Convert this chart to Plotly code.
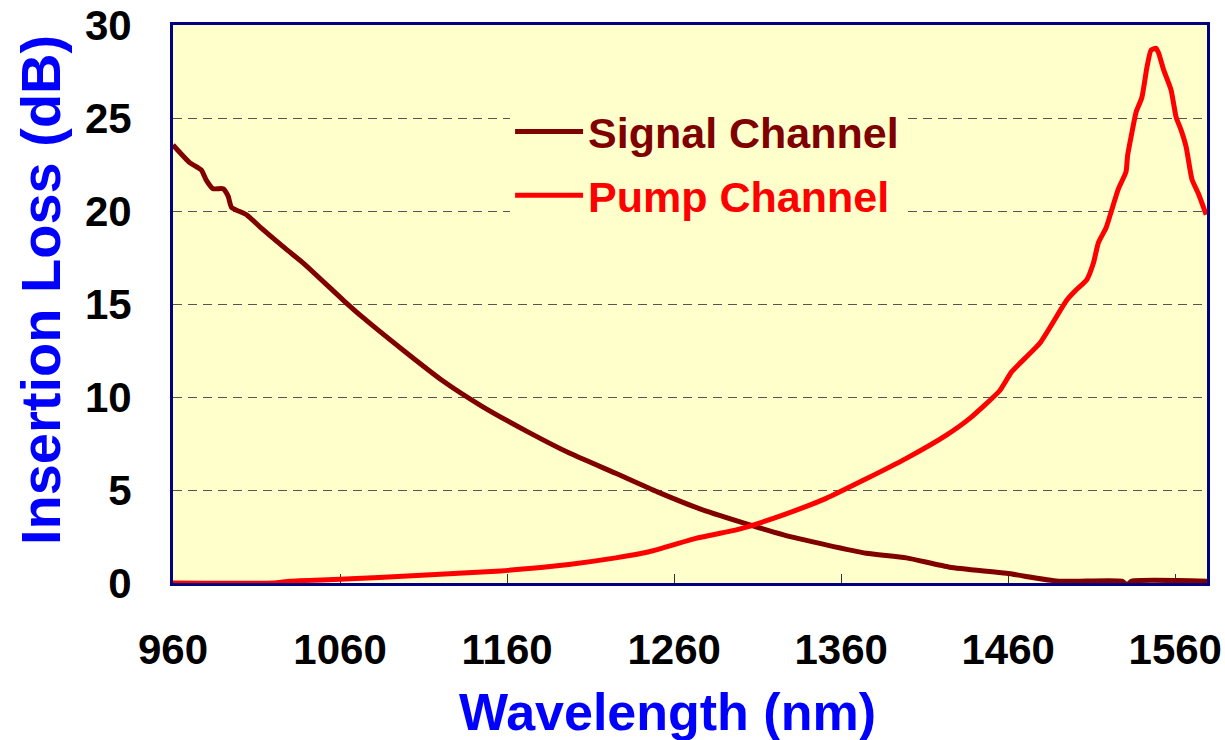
import plotly.graph_objects as go

# Signal channel (dark red)
sig_wl = [960, 970, 977, 980, 984, 990, 993, 995, 1004, 1012, 1027, 1038, 1062, 1074, 1098,
          1121, 1145, 1173, 1197, 1225, 1250, 1275, 1299, 1325, 1351, 1375, 1399, 1425,
          1459, 1490, 1528, 1531, 1534, 1579]
sig_il = [23.55, 22.6, 22.2, 21.65, 21.2, 21.2, 20.8, 20.2, 19.8, 19.15, 18.0, 17.2, 15.2, 14.25, 12.5,
          10.9, 9.5, 8.1, 7.0, 5.9, 4.9, 4.0, 3.3, 2.6, 2.05, 1.6, 1.35, 0.85,
          0.52, 0.1, 0.1, -0.1, 0.1, 0.1]

# Pump channel (red)
pump_wl = [960, 1020, 1030, 1060, 1106, 1156, 1197, 1225, 1245, 1273, 1299, 1325, 1351, 1375,
           1399, 1423, 1437, 1455, 1462, 1479, 1495, 1500.6, 1507, 1511, 1514, 1518.6, 1521.6,
           1526, 1530.5, 1531.5, 1534, 1536.5, 1540, 1543, 1545.5, 1548.5, 1550, 1553, 1557.5,
           1560.5, 1563.5, 1566.5, 1570, 1574, 1578.5]
pump_il = [0.0, 0.0, 0.1, 0.2, 0.4, 0.65, 1.0, 1.35, 1.68, 2.4, 2.9, 3.65, 4.55, 5.6,
           6.7, 7.95, 8.85, 10.35, 11.35, 12.9, 15.2, 15.75, 16.3, 17.2, 18.3, 19.1, 19.95,
           21.2, 22.1, 23.0, 24.2, 25.3, 26.1, 27.7, 28.65, 28.75, 28.5, 27.6, 26.5,
           25.05, 24.35, 23.45, 21.7, 20.9, 19.8]

x_ticks = [960, 1060, 1160, 1260, 1360, 1460, 1560]
y_ticks = [0, 5, 10, 15, 20, 25, 30]

x_title = "Wavelength (nm)"
y_title = "Insertion Loss (dB)"

FONT = "Liberation Sans, Arial, sans-serif"

fig = go.Figure()
fig.add_trace(go.Scatter(x=sig_wl, y=sig_il, mode="lines",
                         name="<span style='color:#800000'>Signal Channel</span>",
                         legendgroup="a",
                         line=dict(color="#800000", width=5, shape="spline", smoothing=0.5),
                         cliponaxis=False))
fig.add_trace(go.Scatter(x=pump_wl, y=pump_il, mode="lines",
                         name="<span style='color:#FF0000'>Pump Channel</span>",
                         legendgroup="b",
                         line=dict(color="#FF0000", width=5, shape="spline", smoothing=0.5),
                         cliponaxis=False))

fig.update_layout(
    width=1225, height=740,
    margin=dict(l=173, r=18, t=25, b=157),
    paper_bgcolor="white",
    plot_bgcolor="#FFFFCC",
    font=dict(family=FONT, color="black"),
    showlegend=True,
    legend=dict(x=0.326, y=0.871, xanchor="left", yanchor="top",
                bgcolor="#FFFFCC", borderwidth=0,
                font=dict(family=FONT, size=43, weight="bold"),
                itemwidth=68, tracegroupgap=5, traceorder="grouped"),
    xaxis=dict(range=[960, 1579], tickvals=x_ticks, ticktext=[str(v) for v in x_ticks],
               showgrid=False, zeroline=False, automargin=False,
               showline=True, mirror=True, linecolor="#000080", linewidth=3,
               ticks="inside", ticklen=9, tickcolor="#333333", tickwidth=1,
               tickfont=dict(family=FONT, size=42, weight="bold", color="black"),
               ticklabelstandoff=28, ticklabeloverflow="allow",
               layer="below traces"),
    yaxis=dict(range=[0, 30], tickvals=y_ticks, ticktext=[str(v) for v in y_ticks],
               showgrid=True, gridcolor="#555555", gridwidth=1, griddash="9px,6px",
               zeroline=False, automargin=False,
               showline=True, mirror=True, linecolor="#000080", linewidth=3,
               ticks="",
               tickfont=dict(family=FONT, size=42, weight="bold", color="black"),
               ticklabelstandoff=30, ticklabeloverflow="allow",
               layer="below traces"),
    annotations=[
        dict(text=x_title, xref="paper", yref="paper", x=0.4787, y=-0.231,
             xanchor="center", yanchor="middle", showarrow=False,
             font=dict(family=FONT, size=52, weight="bold", color="#0000FF")),
        dict(text=y_title, xref="paper", yref="paper", x=0, xshift=-133, y=0.525,
             xanchor="center", yanchor="middle", showarrow=False, textangle=-90,
             font=dict(family=FONT, size=56, weight="bold", color="#0000FF")),
    ],
)

fig.write_html("out.html",
               config={"displayModeBar": False},
               post_script="document.body.style.margin='0';document.body.style.overflow='hidden';")
